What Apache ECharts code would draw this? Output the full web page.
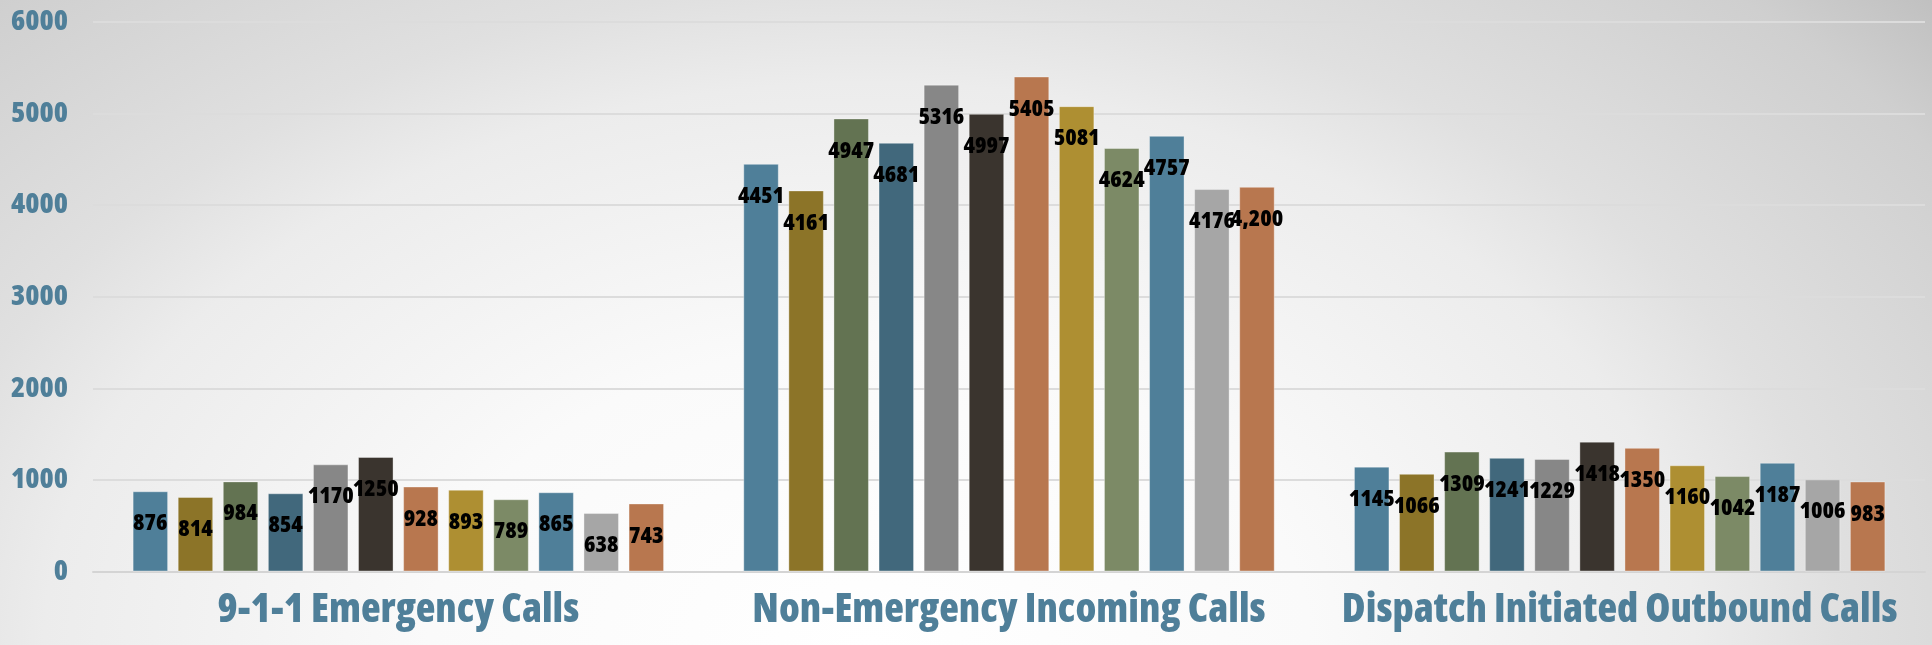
<!DOCTYPE html>
<html><head><meta charset="utf-8">
<script src="https://cdn.jsdelivr.net/npm/echarts@6/dist/echarts.min.js"></script>
<style>
html,body{margin:0;padding:0;}
#c{width:1932px;height:645px;background:radial-gradient(ellipse 1100px 750px at 45% 100%, #ffffff 0%, #fafafa 40%, #ececec 75%, #e0e0e0 88%, #cfcfcf 117%, #bdbdbd 132%);}
</style>
</head><body><div id="c"></div>
<script>
const categories = ['9-1-1 Emergency Calls', 'Non-Emergency Incoming Calls', 'Dispatch Initiated Outbound Calls'];
const seriesNames = ['Jan','Feb','Mar','Apr','May','Jun','Jul','Aug','Sep','Oct','Nov','Dec'];
const emergency    = [876, 814, 984, 854, 1170, 1250, 928, 893, 789, 865, 638, 743];
const nonEmergency = [4451, 4161, 4947, 4681, 5316, 4997, 5405, 5081, 4624, 4757, 4176, 4200];
const outbound     = [1145, 1066, 1309, 1241, 1229, 1418, 1350, 1160, 1042, 1187, 1006, 983];
const yTicks = [0, 1000, 2000, 3000, 4000, 5000, 6000];
const colors = ['#4f7f99','#8c7428','#637352','#41687c','#878787','#3a342e','#b8774f','#ae8f32','#7c8a66','#4f7f99','#a6a6a6','#b8774f'];
const commaLabels = [[11, 1]]; // [series, category] labels shown with thousands separator

// pick the narrowest heavy face available (Impact-like look)
const cv = document.createElement('canvas').getContext('2d');
const candidates = [
  { w: '900 extra-condensed', f: '"Noto Sans"' },
  { w: '800 condensed', f: '"Open Sans"' },
  { w: 'bold condensed', f: '"DejaVu Sans"' },
  { w: 'bold', f: '"DejaVu Sans Condensed"' },
  { w: 'bold', f: '"Liberation Sans Narrow"' },
  { w: 'bold', f: '"Liberation Sans"' }
];
let best = null;
for (const c of candidates) {
  cv.font = '10px monospace';
  const before = cv.font;
  cv.font = c.w + ' 40px ' + c.f;
  if (cv.font === before) continue;
  const wdt = cv.measureText('9-1-1 Emergency Calls').width;
  if (!best || wdt < best.width) best = { ...c, width: wdt };
}
if (!best) best = { w: 'bold', f: 'sans-serif', width: 420 };
function measure(txt, size) { cv.font = best.w + ' ' + size + 'px ' + best.f; return cv.measureText(txt).width; }
function fitSize(txt, targetW, maxSize) {
  const s = 40 * targetW / measure(txt, 40);
  return Math.min(s, maxSize);
}
const xLabelSize = fitSize('9-1-1 Emergency Calls', 362, 46);
const yLabelSize = fitSize('6000', 57, 31);
const barLabelSize = fitSize('4947', 46, 27);
const fontW = best.w, fontF = best.f;

const chart = echarts.init(document.getElementById('c'), null, {renderer: 'canvas'});
const series = seriesNames.map((name, i) => ({
  name: name,
  type: 'bar',
  data: [emergency[i], nonEmergency[i], outbound[i]],
  barWidth: 35.5,
  barGap: '27%',
  itemStyle: { color: colors[i], borderColor: 'rgba(255,255,255,0.35)', borderWidth: 1 },
  label: {
    show: true,
    position: 'insideTop',
    distance: 21,
    color: '#000',
    fontFamily: fontF,
    fontWeight: fontW,
    fontSize: barLabelSize,
    formatter: p => commaLabels.some(c => c[0] === p.seriesIndex && c[1] === p.dataIndex)
      ? p.value.toLocaleString('en-US') : String(p.value)
  }
}));
chart.setOption({
  backgroundColor: 'transparent',
  animation: false,
  grid: { left: 93, right: 7, top: 22, bottom: 73.5, containLabel: false },
  xAxis: {
    type: 'category',
    data: categories,
    axisTick: { show: false },
    axisLine: { lineStyle: { color: '#d4d4d4', width: 2 } },
    axisLabel: { interval: 0, color: '#4f7f99', fontFamily: fontF, fontWeight: fontW, fontSize: xLabelSize, margin: 18 }
  },
  yAxis: {
    type: 'value',
    min: yTicks[0], max: yTicks[yTicks.length - 1], interval: 1000,
    axisLine: { show: false }, axisTick: { show: false },
    splitLine: { lineStyle: { color: '#dcdcdc', width: 2 } },
    axisLabel: { color: '#4f7f99', fontFamily: fontF, fontWeight: fontW, fontSize: yLabelSize, margin: 25,
                 formatter: v => String(v) }
  },
  series: series
});
</script></body></html>
